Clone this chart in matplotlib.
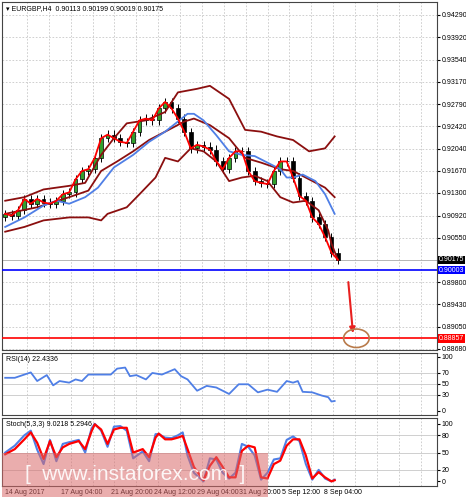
import matplotlib.pyplot as plt
import matplotlib.patches as mpatches
import numpy as np

plt.rcParams['font.family'] = ['Liberation Sans', 'DejaVu Sans']

# closes (H4 bars, approximate)
closes = [0.9095, 0.9092, 0.9101, 0.9120, 0.9112, 0.9120, 0.9114, 0.9112, 0.9117, 0.9128,
          0.9131, 0.9153, 0.9167, 0.9170, 0.9189, 0.9222, 0.9228, 0.9222, 0.9216, 0.9214,
          0.9233, 0.9252, 0.9255, 0.9252, 0.9272, 0.9283, 0.9272, 0.9255, 0.9233, 0.9205,
          0.9211, 0.9208, 0.9203, 0.9183, 0.9170, 0.9189, 0.9200, 0.9200, 0.9167, 0.9150,
          0.9147, 0.9145, 0.9167, 0.9183, 0.9183, 0.9156, 0.9125, 0.9117, 0.9089, 0.9078,
          0.9056, 0.9030, 0.9018]
wick = 0.0007

blue_x = [0, 3, 6, 8, 10, 12.5, 14.5, 17, 20, 22.5, 25, 27, 28.5, 29.5, 31, 33, 35, 37, 39, 41,
          43, 44, 45, 46.5, 48.5, 50, 51.5]
blue_y = [0.9073, 0.9089, 0.9109, 0.9117, 0.9112, 0.9123, 0.9139, 0.9173, 0.9194, 0.9216,
          0.9233, 0.9250, 0.9263, 0.9263, 0.9252, 0.9227, 0.9200, 0.9194, 0.9192, 0.9181,
          0.9170, 0.9156, 0.9156, 0.9161, 0.9150, 0.9128, 0.9095]

up_x = [0, 3, 6, 10, 12.5, 15, 17, 19, 22, 25, 27, 30, 32, 35, 37.5, 40, 42.5, 45, 47.5, 50, 51.5]
up_y = [0.9117, 0.9123, 0.9136, 0.9142, 0.9147, 0.9194, 0.9222, 0.9247, 0.9252, 0.9266,
        0.9299, 0.9305, 0.9310, 0.9288, 0.9236, 0.9233, 0.9225, 0.9219, 0.9200, 0.9205, 0.9225]

mid_x = [0, 5, 10, 13, 15, 17.5, 20, 22.5, 25, 28, 29.5, 32, 35, 37.5, 40, 43, 45, 47.5, 50, 51.5]
mid_y = [0.9095, 0.9106, 0.9123, 0.9134, 0.9167, 0.9183, 0.9200, 0.9219, 0.9233, 0.9250,
         0.9255, 0.9244, 0.9222, 0.9189, 0.9181, 0.9170, 0.9167, 0.9153, 0.9139, 0.9123]

lo_x = [0, 3, 6, 10, 13, 15, 16, 19, 21, 23.5, 25, 27, 29, 31, 33, 35, 37, 39, 41, 43, 45, 47,
        49, 50.5, 51, 52]
lo_y = [0.9065, 0.9073, 0.9084, 0.9089, 0.9089, 0.9084, 0.9095, 0.9106, 0.9128, 0.9156,
        0.9189, 0.9183, 0.9205, 0.9200, 0.9183, 0.9150, 0.9156, 0.9159, 0.9150, 0.9123,
        0.9114, 0.9117, 0.9101, 0.9067, 0.9045, 0.9018]

rsi_x = [0, 1.5, 3, 4, 5, 6.5, 7.5, 8.5, 10, 11, 12, 13, 15, 16.5, 17.5, 18.75, 19.5, 20.5, 22,
         23, 24.5, 25.5, 26.5, 27.5, 28.5, 30, 31.5, 33, 35, 36.5, 38, 39.5, 41, 42.5, 44, 45,
         45.75, 46.5, 48, 49.5, 50.5, 51, 51.5]
rsi_y = [61, 61, 67, 71, 55, 66, 47, 55, 52, 58, 55, 67, 67, 67, 78, 80, 64, 66, 58, 70, 67,
         72, 77, 64, 58, 37, 46, 43, 31, 49, 49, 34, 39, 35, 55, 52, 55, 35, 34, 28, 25, 17, 18]

st_x = [0, 1.5, 3, 4, 5, 6, 7, 8, 9, 10, 11.5, 12.5, 13.5, 14, 15, 16, 17, 18, 19, 20, 21.5,
        22.5, 23.5, 24, 25, 26, 27, 27.75, 28.5, 29.5, 31, 32, 33, 34, 35, 36, 37, 38, 39, 40,
        41, 42, 43, 44, 45, 46, 47, 48, 49, 50, 51, 51.5]
st_red = [47, 56, 73, 85, 67, 39, 70, 42, 59, 65, 70, 56, 87, 99, 90, 65, 90, 93, 93, 50, 56,
          42, 76, 83, 73, 73, 76, 79, 56, 25, 2, 27, 42, 25, 7, 7, 53, 62, 59, 7, 5, 30, 36,
          62, 73, 73, 45, 5, 16, 7, 0, 2]
st_blue = [50, 62, 80, 88, 55, 30, 72, 35, 65, 68, 72, 50, 92, 100, 88, 60, 95, 96, 88, 40, 52,
           35, 82, 82, 76, 75, 80, 85, 45, 15, 0, 40, 38, 15, 5, 15, 65, 60, 45, 3, 15, 38, 40,
           72, 78, 70, 30, 3, 20, 5, 0, 3]

date_x = [0, 8.7, 16.5, 23.3, 30, 36.5, 43.2, 49.8]
date_labels = ["14 Aug 2017", "17 Aug 04:00", "21 Aug 20:00", "24 Aug 12:00", "29 Aug 04:00",
               "31 Aug 20:00", "5 Sep 12:00", "8 Sep 04:00"]

price_ticks = [0.94290, 0.93920, 0.93540, 0.93170, 0.92790, 0.92420, 0.92040, 0.91670,
               0.91300, 0.90920, 0.90550, 0.89800, 0.89430, 0.89050, 0.88680]
support = 0.90003
target = 0.88857
last = 0.90175

XMAX = 67.5
grid_x = np.arange(3.4, XMAX, 3.42)
FS = 5

fig = plt.figure(figsize=(4.66, 5), dpi=100)
ax = fig.add_axes([2/466, 0.30, 435/466, 0.696])
ax_r = fig.add_axes([2/466, 0.17, 435/466, 0.124])
ax_s = fig.add_axes([2/466, 0.028, 435/466, 0.136])

for a in (ax, ax_r, ax_s):
    a.set_xlim(-0.5, XMAX)
    a.yaxis.tick_right()
    a.tick_params(axis='y', labelsize=FS, length=2, pad=1.5)
    a.set_xticks([])
    for x in grid_x:
        a.axvline(x, color='#c8c8c8', ls=(0, (2, 2)), lw=0.6, zorder=0)
    for s in a.spines.values():
        s.set_color('#444444')
        s.set_linewidth(0.8)

# candles
for i, c in enumerate(closes):
    o = closes[i - 1] if i > 0 else c - 0.0005
    hi, lo = max(o, c) + wick, min(o, c) - wick
    ax.vlines(i, lo, hi, color='black', lw=0.7, zorder=2)
    col = '#33a02c' if c >= o else 'black'
    ax.add_patch(mpatches.Rectangle((i - 0.3, min(o, c)), 0.6, max(abs(c - o), 0.0001),
                                    facecolor=col, edgecolor='black', lw=0.5, zorder=3))

ax.plot(up_x, up_y, color='#8b0f0f', lw=1.3, zorder=4)
ax.plot(mid_x, mid_y, color='#8b0f0f', lw=1.3, zorder=4)
ax.plot(lo_x, lo_y, color='#8b0f0f', lw=1.3, zorder=4)
ax.plot(blue_x, blue_y, color='#4f7fe6', lw=1.3, zorder=5)
ax.plot(range(len(closes)), closes, color='#ff0000', lw=1.3, zorder=6)

ax.set_ylim(0.88663, 0.94508)
ax.set_yticks(price_ticks)
ax.set_yticklabels([f"{t:.5f}" for t in price_ticks])
for t in price_ticks:
    ax.axhline(t, color='#c8c8c8', ls=(0, (2, 2)), lw=0.6, zorder=0)
ax.axhline(last, color='#aaaaaa', lw=0.6, zorder=1)
ax.axhline(support, color='#0000ff', lw=1.2, zorder=7)
ax.axhline(target, color='#ff0000', lw=1.2, zorder=7)
for val, bg in ((last, 'black'), (support, '#0000ff'), (target, '#ff0000')):
    ax.text(1.004, val, f"{val:.5f}", transform=ax.get_yaxis_transform(), fontsize=FS,
            color='white', va='center', ha='left',
            bbox=dict(boxstyle='square,pad=0.1', fc=bg, ec='none'), clip_on=False, zorder=9)

ax.annotate('', xy=(54.4, 0.8890), xytext=(53.6, 0.8985),
            arrowprops=dict(arrowstyle='-|>', color='#e8201f', lw=1.5, mutation_scale=8))
ax.add_patch(mpatches.Ellipse((54.9, 0.8886), 4.0, 0.0031, fill=False,
                              edgecolor='#b87a4a', lw=1.2, zorder=8))
ax.text(0.01, 0.992, "▾ EURGBP,H4  0.90113 0.90199 0.90019 0.90175", transform=ax.transAxes,
        fontsize=FS, va='top')

# RSI
ax_r.plot(rsi_x, rsi_y, color='#4f7fe6', lw=1.3)
ax_r.set_ylim(-8, 107)
ax_r.set_yticks([0, 30, 50, 70, 100])
for t in (30, 50, 70):
    ax_r.axhline(t, color='#c8c8c8', lw=0.6, zorder=0)
ax_r.text(0.01, 0.95, "RSI(14) 22.4336", transform=ax_r.transAxes, fontsize=FS, va='top')

# Stochastic
ax_s.plot(st_x, st_blue, color='#4f7fe6', lw=1.5)
ax_s.plot(st_x, st_red, color='#ff0000', lw=1.6)
ax_s.set_ylim(-8, 110)
ax_s.set_yticks([0, 20, 50, 80, 100])
for t in (20, 50, 80):
    ax_s.axhline(t, color='#c8c8c8', lw=0.6, zorder=0)
ax_s.text(0.01, 0.95, "Stoch(5,3,3) 9.0218 5.2946", transform=ax_s.transAxes, fontsize=FS, va='top')
for x, lab in zip(date_x, date_labels):
    ax_s.text(x, -0.04, lab, transform=ax_s.get_xaxis_transform(), fontsize=FS, va='top')

# watermark
fig.patches.append(mpatches.Rectangle((2/466, 3/500), 266/466, 44/500, transform=fig.transFigure,
                                      facecolor='#d96a6a', alpha=0.55, zorder=10))
fig.text(0.29, 0.05, "[  www.instaforex.com  ]", ha='center', va='center', fontsize=15,
         color='white', zorder=11, alpha=0.9)

fig.savefig("out.png", dpi=100)
